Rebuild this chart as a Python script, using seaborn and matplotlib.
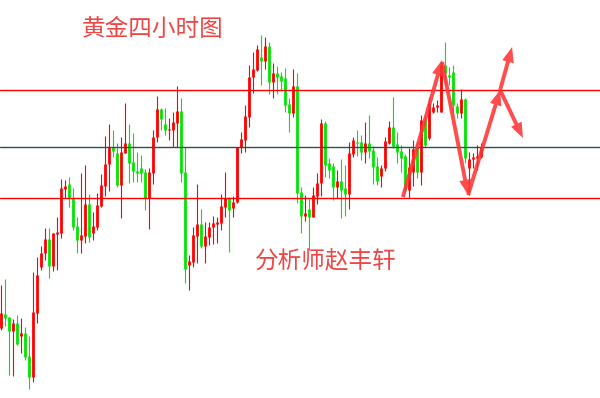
import matplotlib
matplotlib.use("Agg")
import matplotlib.pyplot as plt
import seaborn as sns
import pandas as pd
from matplotlib.patches import FancyArrowPatch

# ---- candle data (4-hour bars, price units) ----
opens = [72, 86, 83, 69, 77, 64, 67, 44, 23, 87, 133, 147, 161, 134, 166, 167, 211, 216, 202, 174,
         160, 164, 196, 167, 173, 194, 214, 236, 253, 247, 215, 247, 257, 238, 229, 232, 228, 202, 227, 263,
         291, 276, 270, 270, 277, 289, 228, 135, 138, 164, 176, 154, 163, 173, 176, 177, 193, 202, 192, 198,
         253, 260, 283, 323, 330, 343, 339, 354, 318, 327, 324, 322, 296, 287, 314, 208, 184, 191, 183, 204,
         217, 277, 237, 234, 213, 219, 212, 206, 246, 258, 258, 248, 257, 250, 234, 224, 232, 257, 273, 256,
         249, 244, 210, 228, 253, 228, 280, 262, 288, 293, 288, 335, 325, 328, 294, 287, 301, 232, 241, 242,
         243]
highs = [115, 121, 83, 81, 85, 82, 73, 64, 128, 143, 154, 172, 172, 167, 183, 221, 220, 223, 212, 183,
         227, 235, 206, 188, 207, 226, 264, 276, 270, 257, 263, 297, 276, 267, 248, 245, 231, 232, 270, 304,
         292, 292, 282, 288, 314, 302, 253, 145, 173, 216, 191, 178, 178, 184, 183, 206, 228, 203, 204, 253,
         268, 295, 335, 348, 355, 365, 363, 358, 337, 334, 328, 332, 302, 331, 327, 213, 205, 201, 213, 227,
         281, 279, 242, 237, 230, 241, 235, 258, 263, 270, 265, 278, 285, 254, 243, 235, 263, 279, 303, 268,
         255, 246, 252, 260, 258, 285, 284, 303, 297, 300, 337, 358, 333, 335, 297, 311, 302, 248, 247, 255,
         257]
lows = [70, 74, 25, 24, 55, 47, 40, 11, 18, 77, 130, 140, 122, 129, 130, 162, 202, 193, 170, 147,
        147, 157, 158, 160, 170, 193, 204, 209, 243, 213, 182, 247, 217, 218, 218, 218, 190, 171, 216, 258,
        270, 265, 260, 253, 253, 218, 117, 110, 133, 137, 152, 137, 155, 156, 157, 170, 183, 148, 183, 197,
        247, 248, 273, 307, 329, 315, 331, 306, 302, 306, 310, 288, 268, 283, 197, 167, 179, 150, 183, 196,
        204, 223, 222, 200, 202, 182, 184, 191, 243, 244, 240, 237, 242, 216, 215, 213, 229, 256, 252, 237,
        228, 208, 202, 214, 222, 215, 253, 260, 287, 288, 288, 315, 315, 285, 282, 282, 237, 205, 232, 230,
        242]
closes = [87, 82, 69, 77, 56, 67, 43, 23, 88, 125, 147, 161, 134, 167, 168, 212, 214, 202, 173, 160,
          165, 196, 163, 174, 195, 215, 236, 253, 249, 215, 248, 257, 237, 229, 227, 227, 202, 228, 263, 291,
          281, 270, 271, 278, 289, 227, 131, 139, 165, 176, 154, 164, 173, 177, 178, 194, 202, 190, 198, 253,
          261, 284, 323, 331, 351, 339, 354, 318, 327, 323, 319, 295, 287, 314, 207, 184, 187, 183, 205, 217,
          277, 235, 230, 213, 219, 210, 206, 247, 260, 257, 248, 257, 249, 233, 219, 232, 259, 273, 254, 248,
          242, 210, 233, 251, 228, 280, 255, 297, 293, 295, 335, 327, 323, 295, 287, 301, 242, 241, 243, 244,
          253]

# key horizontal levels
levels = [310, 253, 202]
level_colors = ["#ff0000", "#2f4f4f", "#ff0000"]

# forecast arrows (bar index, price)
arrows = [((100.6, 203), (110.4, 340)),
          ((110.4, 338), (116.9, 205)),
          ((116.9, 205), (124.9, 310)),
          ((124.9, 310), (127.9, 353)),
          ((124.9, 310), (130.6, 262))]

title_text = "黄金四小时图"
author_text = "分析师赵丰轩"

# ---- build frames ----
n = len(opens)
rows_w, rows_b = [], []
for k in range(n):
    d = "up" if closes[k] >= opens[k] else "down"
    rows_w += [(k, lows[k], d), (k, highs[k], d)]
    rows_b += [(k, opens[k], d), (k, closes[k], d)]
wick_df = pd.DataFrame(rows_w, columns=["k", "price", "dir"])
body_df = pd.DataFrame(rows_b, columns=["k", "price", "dir"])

sns.set_theme(style="white")
plt.rcParams["font.family"] = ["Noto Sans CJK SC", "DejaVu Sans"]

fig = plt.figure(figsize=(6.0, 3.98), dpi=100)
ax = fig.add_axes([0, 0, 1, 1])
pal = {"up": "#ff0000", "down": "#00e600"}

sns.lineplot(data=wick_df, x="k", y="price", hue="dir", units="k", estimator=None,
             palette=pal, linewidth=0.8, legend=False, sort=False, ax=ax,
             solid_capstyle="butt")
sns.lineplot(data=body_df, x="k", y="price", hue="dir", units="k", estimator=None,
             palette=pal, linewidth=2.0, legend=False, sort=False, ax=ax,
             solid_capstyle="butt")

for lv, c in zip(levels, level_colors):
    ax.axhline(lv, color=c, linewidth=1.0, zorder=3)

for (x0, y0), (x1, y1) in arrows:
    arr = FancyArrowPatch((x0, y0), (x1, y1),
                          arrowstyle="simple,head_length=1.1,head_width=0.85,tail_width=0.28",
                          mutation_scale=10, color="#ff3333", alpha=0.88,
                          shrinkA=0, shrinkB=0, zorder=5, linewidth=0)
    ax.add_patch(arr)

ax.set_xlim(-0.125, 149.875)
ax.set_ylim(2, 400)
ax.set_axis_off()

fig.text(152.5 / 600, 1 - 29.5 / 398, title_text, color="#f04545", fontsize=17,
         ha="center", va="center", family=["Noto Sans CJK SC", "DejaVu Sans"])
fig.text(325.5 / 600, 1 - 261 / 398, author_text, color="#f04545", fontsize=17,
         ha="center", va="center", family=["Noto Sans CJK SC", "DejaVu Sans"])

fig.savefig("out.png", dpi=100, facecolor="white")
